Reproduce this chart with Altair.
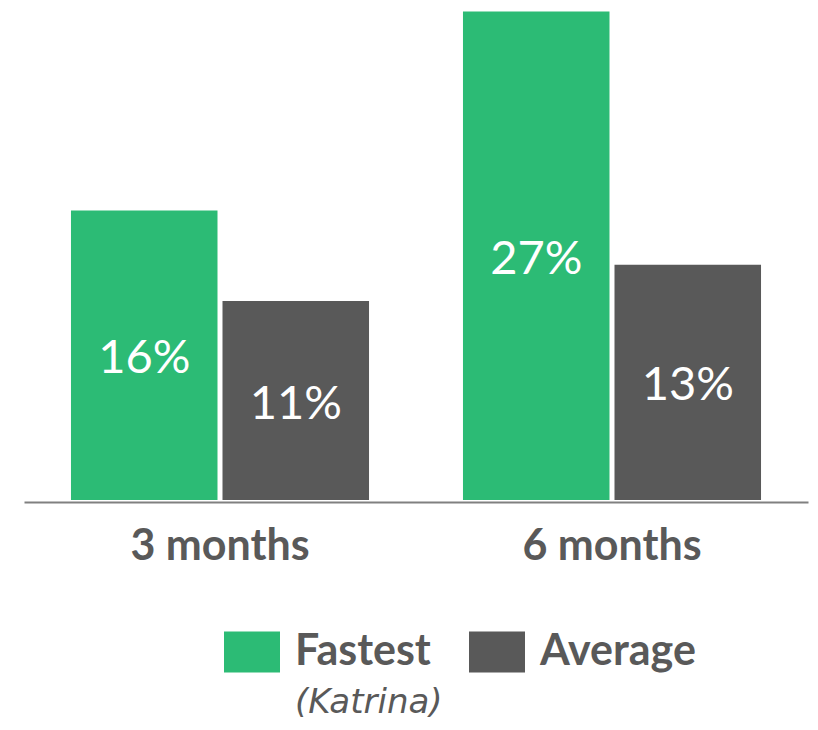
import altair as alt
import pandas as pd

periods = ["3 months", "3 months", "6 months", "6 months"]
series = ["Fastest", "Average", "Fastest", "Average"]
values = [16, 11, 27, 13]
labels = ["16%", "11%", "27%", "13%"]

series_order = ["Fastest", "Average"]
series_colors = ["#2CBB75", "#595959"]
legend_note = "(Katrina)"

df = pd.DataFrame({"period": periods, "series": series, "value": values, "label": labels})

x_enc = alt.X("period:N", title=None, sort=["3 months", "6 months"],
              scale=alt.Scale(paddingInner=0, paddingOuter=0),
              axis=alt.Axis(labelAngle=0, ticks=False, tickSize=0, grid=False,
                            domainColor="#808080", domainWidth=2, offset=2,
                            labelFont="Lato", labelFontWeight="bold", labelFontSize=43,
                            labelColor="#595959", labelPadding=23))
xoff = alt.XOffset("series:N", sort=series_order,
                   scale=alt.Scale(paddingInner=0.033, paddingOuter=0.31))
y_scale = alt.Scale(domain=[0, 27.2], nice=False, zero=True)

bars = alt.Chart(df).mark_bar().encode(
    x=x_enc,
    xOffset=xoff,
    y=alt.Y("value:Q", scale=y_scale, axis=None),
    color=alt.Color("series:N", sort=series_order,
                    scale=alt.Scale(domain=series_order, range=series_colors),
                    legend=alt.Legend(
                        title=None, orient="none", direction="horizontal",
                        legendX=200, legendY=616, padding=0,
                        symbolType="M-1,-0.73L1,-0.73L1,0.73L-1,0.73Z",
                        symbolSize=3136, symbolStrokeWidth=0, symbolOpacity=1,
                        labelFont="Lato", labelFontWeight="bold", labelFontSize=43,
                        labelColor="#595959", labelOffset=15, columnPadding=38,
                        labelLimit=400)),
)

text = alt.Chart(df).transform_calculate(mid="datum.value / 2").mark_text(
    font="Lato", fontSize=47, color="white", baseline="middle", align="center", dy=4
).encode(
    x=alt.X("period:N", sort=["3 months", "6 months"]),
    xOffset=xoff,
    y=alt.Y("mid:Q", scale=y_scale),
    text="label:N",
)

note = alt.Chart(pd.DataFrame({"t": [legend_note]})).mark_text(
    font="DejaVu Sans", fontStyle="italic", fontSize=34, color="#595959",
    align="left", baseline="alphabetic"
).encode(x=alt.value(271), y=alt.value(705), text="t:N")

chart = alt.layer(bars, text, note).properties(
    width=784, height=492,
    padding={"left": 16, "top": 0, "right": 2, "bottom": 222},
    autosize=alt.AutoSizeParams(type="none"),
).configure_view(stroke=None)

chart.save("out.html", embed_options={"renderer": "svg", "actions": False})
